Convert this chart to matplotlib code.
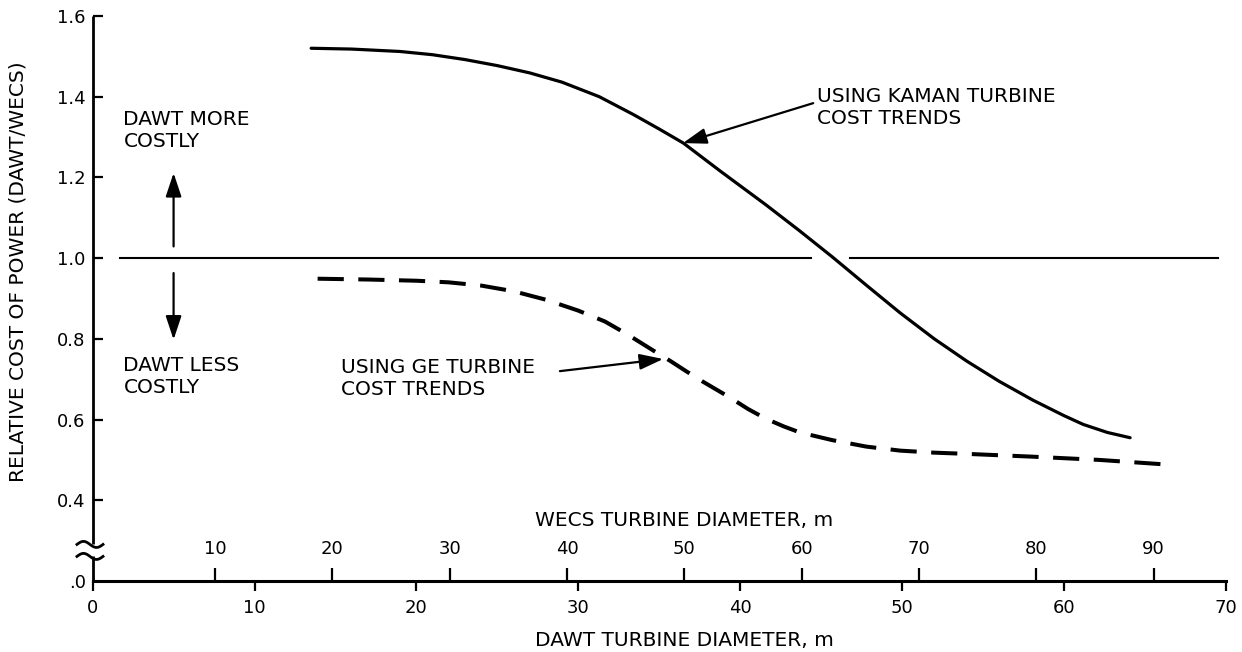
import numpy as np
import matplotlib
matplotlib.use('Agg')
import matplotlib.pyplot as plt

# DAWT turbine diameter (m) vs relative cost of power
kaman_x = [13.5, 16.0, 19.0, 21.0, 23.0, 25.0, 27.0, 29.0, 31.3, 33.4, 35.0, 36.5, 38.8, 41.6, 43.7,
           45.7, 47.8, 49.9, 52.0, 54.0, 56.0, 58.1, 60.0, 61.2, 62.7, 64.1]
kaman_y = [1.520, 1.518, 1.512, 1.504, 1.492, 1.477, 1.459, 1.436, 1.400, 1.356, 1.320, 1.285, 1.215,
           1.132, 1.067, 1.003, 0.933, 0.864, 0.800, 0.745, 0.695, 0.648, 0.610, 0.588, 0.568, 0.555]

ge_x = [13.9, 17.0, 20.0, 22.0, 24.0, 26.0, 28.0, 30.0, 31.65, 33.0, 34.6, 35.7, 36.7, 37.7, 39.4,
        40.5, 41.6, 42.7, 43.7, 45.7, 47.8, 49.9, 52.0, 54.0, 58.1, 62.2, 66.2]
ge_y = [0.949, 0.947, 0.944, 0.940, 0.932, 0.918, 0.897, 0.870, 0.843, 0.812, 0.772, 0.745, 0.719,
        0.694, 0.654, 0.626, 0.602, 0.583, 0.568, 0.549, 0.533, 0.523, 0.518, 0.515, 0.508, 0.500, 0.489]

# reference line at 1.0, broken where the Kaman curve crosses it
ref_left = [1.7, 44.4]
ref_right = [46.8, 69.5]
ref_y = 1.0

y_ticks = [0.2, 0.4, 0.6, 0.8, 1.0, 1.2, 1.4, 1.6]
y_labels = ['.0', '0.4', '0.6', '0.8', '1.0', '1.2', '1.4', '1.6']
dawt_ticks = [0, 10, 20, 30, 40, 50, 60, 70]
wecs_ticks = [10, 20, 30, 40, 50, 60, 70, 80, 90]

# WECS diameter -> DAWT diameter
WECS_SCALE = 0.725
WECS_OFFSET = 0.31


def wecs_to_dawt(w):
    return np.asarray(w) * WECS_SCALE + WECS_OFFSET


def dawt_to_wecs(d):
    return (np.asarray(d) - WECS_OFFSET) / WECS_SCALE


fig = plt.figure(figsize=(12.42, 6.52), dpi=100)
ax = fig.add_axes([0.0746, 0.1089, 0.9122, 0.8666])
ax.set_xlim(0, 70)
ax.set_ylim(0.2, 1.6)

ax.plot(kaman_x, kaman_y, color='k', lw=2.3, solid_capstyle='round', solid_joinstyle='round')
ax.plot(ge_x, ge_y, color='k', lw=2.9, dashes=(6.5, 3.6))
ax.plot(ref_left, [ref_y, ref_y], color='k', lw=1.5)
ax.plot(ref_right, [ref_y, ref_y], color='k', lw=1.5)

# spines
for s in ['top', 'right', 'left']:
    ax.spines[s].set_visible(False)
ax.spines['bottom'].set_linewidth(2.2)

# left spine with break
brk_top = 0.2906
brk_bot = 0.2609
ax.plot([0, 0], [brk_top, 1.6], color='k', lw=2.0, clip_on=False, solid_capstyle='butt')
ax.plot([0, 0], [0.2, brk_bot], color='k', lw=2.0, clip_on=False, solid_capstyle='butt')
t = np.linspace(0, 2 * np.pi, 40)
for yc in [brk_top, brk_bot]:
    ax.plot(-0.97 + 1.61 * t / (2 * np.pi), yc + 0.0075 * np.sin(t), color='k', lw=2.0, clip_on=False)

ax.set_yticks(y_ticks)
ax.set_yticklabels(y_labels)
ax.tick_params(axis='y', direction='in', length=7, width=1.6, pad=5, labelsize=13)
ax.yaxis.get_major_ticks()[0].tick1line.set_visible(False)

ax.set_xticks(dawt_ticks)
ax.tick_params(axis='x', direction='out', length=7, width=1.6, pad=6, labelsize=13)

sec = ax.secondary_xaxis(0.0, functions=(dawt_to_wecs, wecs_to_dawt))
sec.set_alignment('top')
sec.spines['top'].set_visible(False)
sec.spines['bottom'].set_visible(False)
sec.set_xticks(wecs_ticks)
sec.tick_params(axis='x', direction='out', length=9.5, width=1.6, pad=7, labelsize=13)

ax.annotate('WECS TURBINE DIAMETER, m', xy=(wecs_to_dawt(50), 0.2), xytext=(0, 60),
            textcoords='offset pixels', ha='center', va='center', fontsize=14.5)
ax.annotate('DAWT TURBINE DIAMETER, m', xy=(wecs_to_dawt(50), 0.2), xytext=(0, -60),
            textcoords='offset pixels', ha='center', va='center', fontsize=14.5, annotation_clip=False)

fig.text(0.0145, 0.583, 'RELATIVE COST OF POWER (DAWT/WECS)', rotation=90,
         ha='center', va='center', fontsize=14.5)

# annotations
ax.text(1.9, 1.367, 'DAWT MORE\nCOSTLY', ha='left', va='top', fontsize=14.5)
ax.text(1.9, 0.757, 'DAWT LESS\nCOSTLY', ha='left', va='top', fontsize=14.5)
ax.annotate('', xy=(5.0, 1.211), xytext=(5.0, 1.029),
            arrowprops=dict(arrowstyle='-|>,head_length=0.9,head_width=0.3', lw=1.6, color='k',
                            shrinkA=0, shrinkB=0, mutation_scale=16))
ax.annotate('', xy=(5.0, 0.798), xytext=(5.0, 0.963),
            arrowprops=dict(arrowstyle='-|>,head_length=0.9,head_width=0.3', lw=1.6, color='k',
                            shrinkA=0, shrinkB=0, mutation_scale=16))

ax.text(44.75, 1.425, 'USING KAMAN TURBINE\nCOST TRENDS', ha='left', va='top', fontsize=14.5)
ax.annotate('', xy=(36.47, 1.285), xytext=(44.52, 1.384),
            arrowprops=dict(arrowstyle='-|>,head_length=0.9,head_width=0.3', lw=1.6, color='k',
                            shrinkA=0, shrinkB=0, mutation_scale=16))

ax.text(15.35, 0.753, 'USING GE TURBINE\nCOST TRENDS', ha='left', va='top', fontsize=14.5)
ax.annotate('', xy=(35.25, 0.750), xytext=(28.87, 0.720),
            arrowprops=dict(arrowstyle='-|>,head_length=0.9,head_width=0.3', lw=1.6, color='k',
                            shrinkA=0, shrinkB=0, mutation_scale=16))

fig.savefig('out.png', dpi=100)
